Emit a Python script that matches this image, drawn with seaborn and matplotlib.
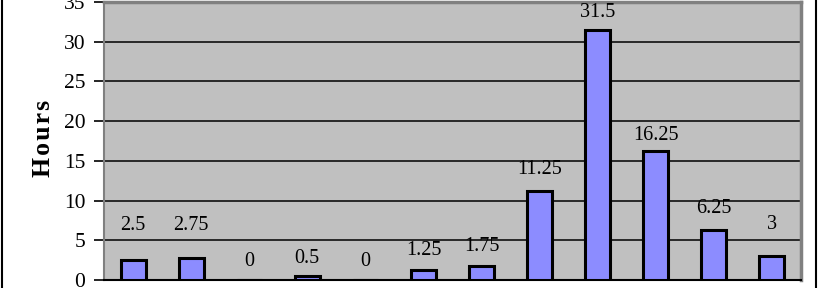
import matplotlib
matplotlib.use("Agg")
import matplotlib.pyplot as plt
import seaborn as sns
import pandas as pd
import numpy as np
from matplotlib.patches import Rectangle

categories = ["1", "2", "3", "4", "5", "6", "7", "8", "9", "10", "11", "12"]
hours = [2.5, 2.75, 0, 0.5, 0, 1.25, 1.75, 11.25, 31.5, 16.25, 6.25, 3]
label_texts = ["2.5", "2.75", "0", "0.5", "0", "1.25", "1.75", "11.25", "31.5", "16.25", "6.25", "3"]
yticks = [0, 5, 10, 15, 20, 25, 30, 35]
# gap (pixels) between each bar top and its value label, as placed in the reference
label_gap_px = [30, 28, 14, 13, 14, 15, 15, 17, 13, 11, 17, 27]

df = pd.DataFrame({"cat": categories, "hours": hours})

sns.set_theme(style="white")
plt.rcParams["font.family"] = ["Liberation Serif", "DejaVu Serif"]
plt.rcParams["text.color"] = "black"
plt.rcParams["ytick.color"] = "black"
plt.rcParams["axes.labelcolor"] = "black"

W, H = 823, 288
fig = plt.figure(figsize=(W / 100, H / 100), dpi=100)
ax = fig.add_axes([104 / W, (H - 280) / H, (801 - 104) / W, (280 - 2) / H])

sns.barplot(data=df, x="cat", y="hours", ax=ax, color="#8C8CFF", saturation=1,
            width=0.43, edgecolor="black", linewidth=2.2, zorder=3)

ax.set_facecolor("#C0C0C0")
ax.set_xlim(-0.5, len(categories) - 0.5)
ax.set_ylim(0, 35)
ax.set_yticks(yticks)
ax.set_yticklabels([str(t) for t in yticks], fontsize=15.5, color="black")
ax.yaxis.grid(True, color="black", linewidth=1.1, zorder=1)
ax.set_axisbelow(True)

ax.set_xticks(range(len(categories)))
ax.set_xticklabels([])
ax.tick_params(axis="x", which="major", length=0)
ax.set_xticks(np.arange(-0.5, len(categories), 1), minor=True)
ax.tick_params(axis="x", which="minor", length=9, width=1.2, color="black", direction="out")
ax.tick_params(axis="y", length=7, width=1.2, color="black", direction="out", pad=6.5, left=True)
ax.set_xlabel("")
ax.set_ylabel("H\u200ao\u200au\u200ar\u200as", fontsize=18.5, fontweight="bold", color="black")
ax.yaxis.set_label_coords(-0.0703, 0.509)

for s in ["top", "right"]:
    ax.spines[s].set_color("#808080")
    ax.spines[s].set_linewidth(2.5)
ax.spines["left"].set_color("#808080")
ax.spines["left"].set_linewidth(1.5)
ax.spines["bottom"].set_color("black")
ax.spines["bottom"].set_linewidth(1.5)

for i, (v, t, g) in enumerate(zip(hours, label_texts, label_gap_px)):
    ax.annotate(t, (i, v), xytext=(0, g * 0.72), textcoords="offset points",
                ha="center", va="baseline", fontsize=14.5, color="black", zorder=5)

fig.patches.append(Rectangle((2 / W, -0.1), (816 - 2) / W, 1.2, transform=fig.transFigure,
                             fill=False, edgecolor="black", linewidth=1.5))

fig.savefig("out.png", dpi=100)
